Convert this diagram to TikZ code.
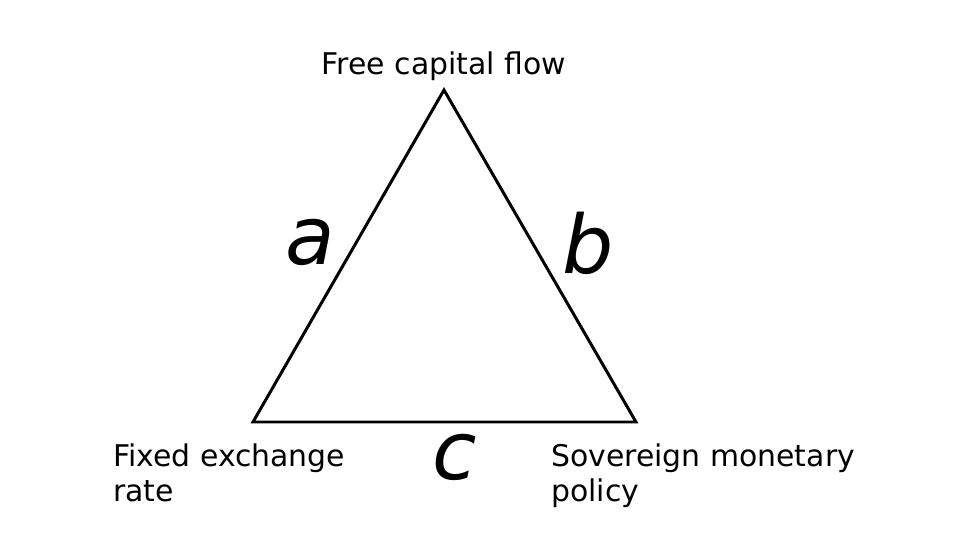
\documentclass[tikz,border=0pt]{standalone}
\usepackage{fontspec}
\setmainfont{DejaVu Sans}
\usetikzlibrary{calc}

\begin{document}
\begin{tikzpicture}[x=0.02cm,y=-0.02cm]
		\tikzset{side/.style={line width=1.7pt,line join=miter}};
		\tikzset{lbl/.style={inner sep=0pt,font=\fontsize{17}{20.4}\selectfont}};
		\tikzset{letter/.style={inner sep=0pt,font=\fontsize{46}{54}\selectfont\itshape}};
		
		\useasboundingbox (0,0) rectangle (960,550);
		\coordinate (top) at (444,90);
		\coordinate (left) at (253,422);
		\coordinate (right) at (636,422);
		\draw [side] (top)--(right)--(left)--cycle;
		
		\node (flow) at (444,75) [lbl,anchor=base] {Free capital flow};
		\node (fixed) at (113,443) [lbl,anchor=north west,align=left] {Fixed exchange\\rate};
		\node (policy) at (551,443) [lbl,anchor=north west,align=left] {Sovereign monetary\\policy};
		\node (a) at (310,265) [letter,anchor=base] {a};
		\node (b) at (588,274) [letter,anchor=base] {b};
		\node (c) at (455,479) [letter,anchor=base] {c};
		\end{tikzpicture}
\end{document}
